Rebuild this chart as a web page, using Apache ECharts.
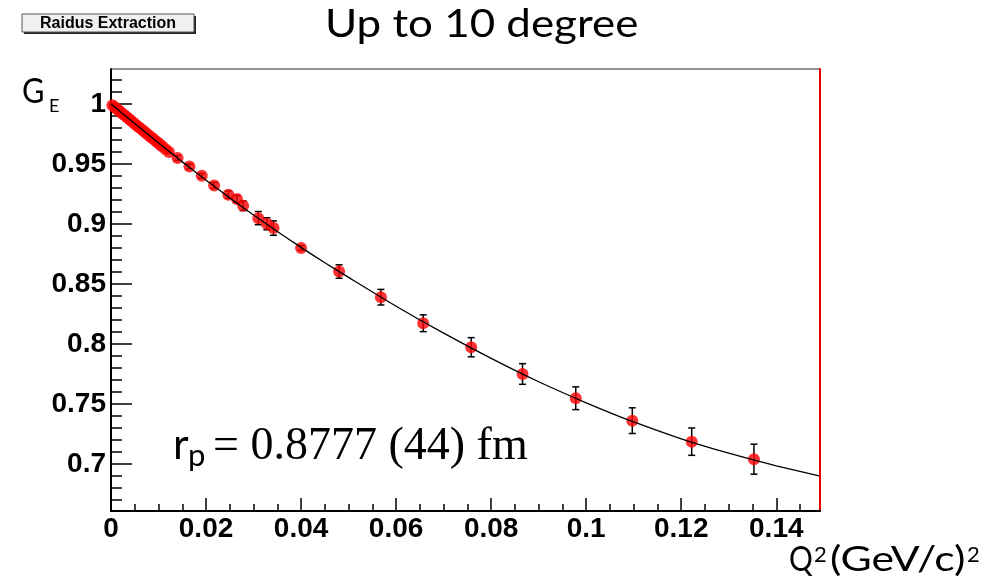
<!DOCTYPE html>
<html>
<head>
<meta charset="utf-8">
<script src="https://cdn.jsdelivr.net/npm/echarts@6/dist/echarts.min.js"></script>
<style>
html,body{margin:0;padding:0;background:#fff;}
#chart{width:1008px;height:584px;}
</style>
</head>
<body>
<div id="chart"></div>
<script>
// ---- data ----
const pointQ2 = [0.0003,0.0008,0.0013,0.0018,0.0023,0.0028,0.0033,0.0038,0.0043,0.0048,0.0053,0.0058,0.0063,0.0068,0.0073,0.0078,0.0083,0.0088,0.0093,0.0098,0.0103,0.0108,0.0115,0.0122,
  0.0140,0.0165,0.0191,0.0217,0.0247,0.0265,0.0278,0.0310,0.0328,0.0342,0.0400,0.0480,0.0568,0.0657,0.0758,0.0866,0.0978,0.1097,0.1222,0.1353];
const pointGE = [0.9990,0.9974,0.9957,0.9941,0.9924,0.9908,0.9891,0.9875,0.9858,0.9842,0.9826,0.9809,0.9793,0.9777,0.9760,0.9744,0.9728,0.9712,0.9695,0.9679,0.9663,0.9647,0.9624,0.9601,
  0.9550,0.9480,0.9402,0.9321,0.9244,0.9208,0.9152,0.9049,0.9002,0.8966,0.8800,0.8604,0.8390,0.8173,0.7973,0.7750,0.7548,0.7361,0.7186,0.7040];
const pointErr = [0.001,0.001,0.001,0.001,0.001,0.001,0.001,0.001,0.001,0.001,0.001,0.001,0.001,0.001,0.001,0.001,0.001,0.001,0.001,0.001,0.001,0.001,0.001,0.001,
  0.002,0.002,0.002,0.0025,0.003,0.003,0.004,0.0055,0.005,0.006,0.002,0.0056,0.0065,0.007,0.008,0.0086,0.0095,0.0107,0.0114,0.0125];
const fitQ2 = [0,0.005,0.01,0.015,0.02,0.025,0.03,0.035,0.04,0.045,0.05,0.06,0.07,0.08,0.09,0.10,0.11,0.12,0.13,0.14,0.149];
const fitGE = [1.0,0.9837,0.9675,0.9518,0.9365,0.9218,0.9075,0.8938,0.8805,0.8677,0.8555,0.8315,0.8090,0.7880,0.7685,0.7510,0.7350,0.7210,0.7090,0.6985,0.6900];
const xMajorTicks = [0,0.02,0.04,0.06,0.08,0.1,0.12,0.14];
const xMinorTicks = [0.005,0.01,0.015,0.025,0.03,0.035,0.045,0.05,0.055,0.065,0.07,0.075,0.085,0.09,0.095,0.105,0.11,0.115,0.125,0.13,0.135,0.145];
const yMajorTicks = [0.7,0.75,0.8,0.85,0.9,0.95,1];
const yMinorTicks = [0.67,0.68,0.69,0.71,0.72,0.73,0.74,0.76,0.77,0.78,0.79,0.81,0.82,0.83,0.84,0.86,0.87,0.88,0.89,0.91,0.92,0.93,0.94,0.96,0.97,0.98,0.99,1.01,1.02];
const xRange = [0, 0.1492];
const yRange = [0.6608, 1.0292];

const pts = pointQ2.map((q, i) => [q, pointGE[i], pointErr[i]]);
const fit = fitQ2.map((q, i) => [q, fitGE[i]]);

const chart = echarts.init(document.getElementById('chart'), null, {renderer: 'canvas'});
const labelFont = {fontFamily: 'Liberation Sans, Arial, sans-serif', fontWeight: 'bold', fontSize: 28, color: '#000'};
const noSplit = {show: false};
const sans = 'Lato, sans-serif';

function txt(x, y, text, font, sx) {
  return {type: 'text', x: x, y: y, scaleX: sx || 1, z: 12,
    style: {text: text, fill: '#000', font: font, textAlign: 'left', textVerticalAlign: 'middle'}};
}

chart.setOption({
  animation: false,
  backgroundColor: '#fff',
  grid: {left: 111, top: 69, width: 709, height: 442, show: true, borderColor: '#222', borderWidth: 1, backgroundColor: 'transparent'},
  xAxis: [
    {type: 'value', min: xRange[0], max: xRange[1], position: 'bottom',
     axisLine: {show: true, onZero: false, lineStyle: {color: '#000', width: 2}},
     axisTick: {show: true, inside: true, length: 13, customValues: xMajorTicks, lineStyle: {color: '#000', width: 1.5}},
     axisLabel: Object.assign({customValues: xMajorTicks, margin: 4}, labelFont),
     splitLine: noSplit},
    {type: 'value', min: xRange[0], max: xRange[1], position: 'bottom',
     axisLine: {show: false},
     axisTick: {show: true, inside: true, length: 7, customValues: xMinorTicks, lineStyle: {color: '#000', width: 1.5}},
     axisLabel: {show: false}, splitLine: noSplit}
  ],
  yAxis: [
    {type: 'value', min: yRange[0], max: yRange[1], position: 'left',
     axisLine: {show: true, onZero: false, lineStyle: {color: '#000', width: 2}},
     axisTick: {show: true, inside: true, length: 21, customValues: yMajorTicks, lineStyle: {color: '#000', width: 1.5}},
     axisLabel: Object.assign({customValues: yMajorTicks, margin: 5, padding: [6, 0, 0, 0]}, labelFont),
     splitLine: noSplit},
    {type: 'value', min: yRange[0], max: yRange[1], position: 'left',
     axisLine: {show: false},
     axisTick: {show: true, inside: true, length: 11, customValues: yMinorTicks, lineStyle: {color: '#000', width: 1.5}},
     axisLabel: {show: false}, splitLine: noSplit},
    {type: 'value', min: yRange[0], max: yRange[1], position: 'right',
     axisLine: {show: true, onZero: false, lineStyle: {color: '#e00000', width: 2}},
     axisTick: {show: false}, axisLabel: {show: false}, splitLine: noSplit}
  ],
  series: [
    {type: 'custom', xAxisIndex: 0, yAxisIndex: 0, z: 2, data: pts,
     renderItem: function (params, api) {
       const x = api.value(0), y = api.value(1), e = api.value(2);
       const t = api.coord([x, y + e]);
       const b = api.coord([x, y - e]);
       const st = {stroke: '#000', lineWidth: 1.5};
       return {type: 'group', children: [
         {type: 'line', shape: {x1: t[0], y1: t[1], x2: b[0], y2: b[1]}, style: st},
         {type: 'line', shape: {x1: t[0] - 3.5, y1: t[1], x2: t[0] + 3.5, y2: t[1]}, style: st},
         {type: 'line', shape: {x1: b[0] - 3.5, y1: b[1], x2: b[0] + 3.5, y2: b[1]}, style: st}
       ]};
     }},
    {type: 'scatter', xAxisIndex: 0, yAxisIndex: 0, z: 3, data: pts, symbol: 'circle', symbolSize: 12,
     itemStyle: {color: '#ff0000'}},
    {type: 'line', xAxisIndex: 0, yAxisIndex: 0, z: 4, data: fit, showSymbol: false, smooth: 0.2,
     lineStyle: {color: '#000', width: 1.3}}
  ],
  graphic: [
    {type: 'rect', shape: {x: 24, y: 16, width: 172, height: 18}, style: {fill: '#222'}, z: 10},
    {type: 'rect', shape: {x: 22, y: 14, width: 172, height: 18}, style: {fill: '#f0f0f0', stroke: '#555', lineWidth: 1}, z: 11},
    {type: 'text', x: 108, y: 23.5, z: 12, style: {text: 'Raidus Extraction', fill: '#000', font: 'bold 16px "Liberation Sans", Arial, sans-serif', textAlign: 'center', textVerticalAlign: 'middle'}},
    txt(325, 25, 'Up to 10 degree', '38px ' + sans, 1.155),
    txt(22, 92, 'G', '35px ' + sans, 0.88),
    txt(49, 106, 'E', '18px ' + sans),
    txt(789, 560, 'Q', '35px ' + sans, 0.85),
    txt(814, 555, '2', '22px ' + sans),
    txt(830, 560, '(GeV/c)', '35px ' + sans, 1.22),
    txt(967, 555, '2', '22px ' + sans),
    txt(173, 445, 'r', '43px ' + sans),
    txt(188, 456, 'p', '31px ' + sans),
    txt(213, 446.5, '= 0.8777 (44) fm', '46px "Liberation Serif", "DejaVu Serif", serif')
  ]
});
</script>
</body>
</html>
